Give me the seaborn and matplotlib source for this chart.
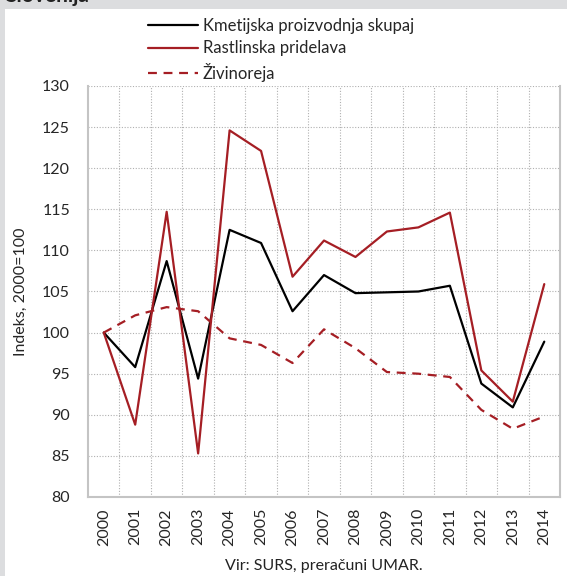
import matplotlib
matplotlib.use("Agg")
import matplotlib.pyplot as plt
import seaborn as sns
import pandas as pd
from matplotlib.lines import Line2D

years = [str(y) for y in range(2000, 2015)]
skupaj = [100, 95.8, 108.7, 94.4, 112.5, 110.9, 102.6, 107.0, 104.8, 104.9, 105.0, 105.7, 93.8, 90.9, 98.9]
rastlinska = [100, 88.8, 114.7, 85.3, 124.6, 122.1, 106.8, 111.2, 109.2, 112.3, 112.8, 114.6, 95.4, 91.6, 105.9]
zivinoreja = [100, 102.1, 103.1, 102.6, 99.3, 98.5, 96.3, 100.4, 98.1, 95.2, 95.0, 94.6, 90.6, 88.3, 89.8]
series_names = ["Kmetijska proizvodnja skupaj", "Rastlinska pridelava", "Živinoreja"]
y_ticks = list(range(80, 131, 5))

sns.set_theme(style="white")
plt.rcParams["font.family"] = ["Lato", "DejaVu Sans"]

df = pd.DataFrame({
    "year": years * 3,
    "x": list(range(len(years))) * 3,
    "value": skupaj + rastlinska + zivinoreja,
    "series": [series_names[0]] * 15 + [series_names[1]] * 15 + [series_names[2]] * 15,
})

W, H = 567, 576
fig = plt.figure(figsize=(W / 100, H / 100), dpi=100)
fig.patch.set_facecolor("#dcdddf")
bg = fig.add_axes([5 / W, 0, 1 - 5 / W, 1 - 9 / H], zorder=-10)
bg.set_facecolor("white")
bg.set_xticks([]); bg.set_yticks([])
for s in bg.spines.values():
    s.set_visible(False)

fig.text(5 / W, 1 + 4 / H, "Slovenija", fontsize=15, fontweight="bold",
         color="#222222", va="center", ha="left")

ax = fig.add_axes([88 / W, 1 - 497 / H, (560 - 88) / W, (497 - 86) / H])
ax.set_facecolor("white")

red = "#a51e24"
palette = {series_names[0]: "black", series_names[1]: red, series_names[2]: red}
dashes = {series_names[0]: "", series_names[1]: "", series_names[2]: (4, 3)}
sns.lineplot(data=df, x="x", y="value", hue="series", style="series",
             palette=palette, dashes=dashes, linewidth=1.6, ax=ax, legend=False)

ax.set_xlim(-0.5, len(years) - 0.5)
ax.set_ylim(80, 130)
ax.set_yticks(y_ticks)
ax.set_yticklabels([str(t) for t in y_ticks], fontsize=11.5)
ax.set_xticks(range(len(years)))
ax.set_xticklabels(years, rotation=90, fontsize=11.5)
ax.set_xticks([i + 0.5 for i in range(len(years) - 1)], minor=True)
ax.tick_params(axis="x", which="both", length=0, pad=8)
ax.tick_params(axis="y", length=0, pad=13)
ax.grid(False)
ax.yaxis.grid(True, color="#b0b0b0", linestyle=(0, (1, 1.5)), linewidth=0.8)
ax.xaxis.grid(True, which="minor", color="#b0b0b0", linestyle=(0, (1, 1.5)), linewidth=0.8)
ax.set_axisbelow(True)
for side in ["left", "bottom", "right"]:
    ax.spines[side].set_color("#c4c4c4")
    ax.spines[side].set_linewidth(1.5)
ax.spines["top"].set_visible(False)
ax.set_xlabel("")
ax.set_ylabel("Indeks, 2000=100", fontsize=11.5, labelpad=10)

handles = [Line2D([], [], color="black", lw=1.6),
           Line2D([], [], color=red, lw=1.6),
           Line2D([], [], color=red, lw=1.6, dashes=(4, 3))]
fig.legend(handles, series_names, loc="upper left",
           bbox_to_anchor=(141 / W, 1 - 11 / H), frameon=False, fontsize=12,
           handlelength=3.0, handletextpad=0.3, labelspacing=0.4,
           borderaxespad=0)

fig.text((88 + 560) / 2 / W, 1 - 566 / H, "Vir: SURS, preračuni UMAR.",
         fontsize=11.5, ha="center", va="center", color="#222222")

fig.savefig("out.png", dpi=100, facecolor=fig.get_facecolor())
